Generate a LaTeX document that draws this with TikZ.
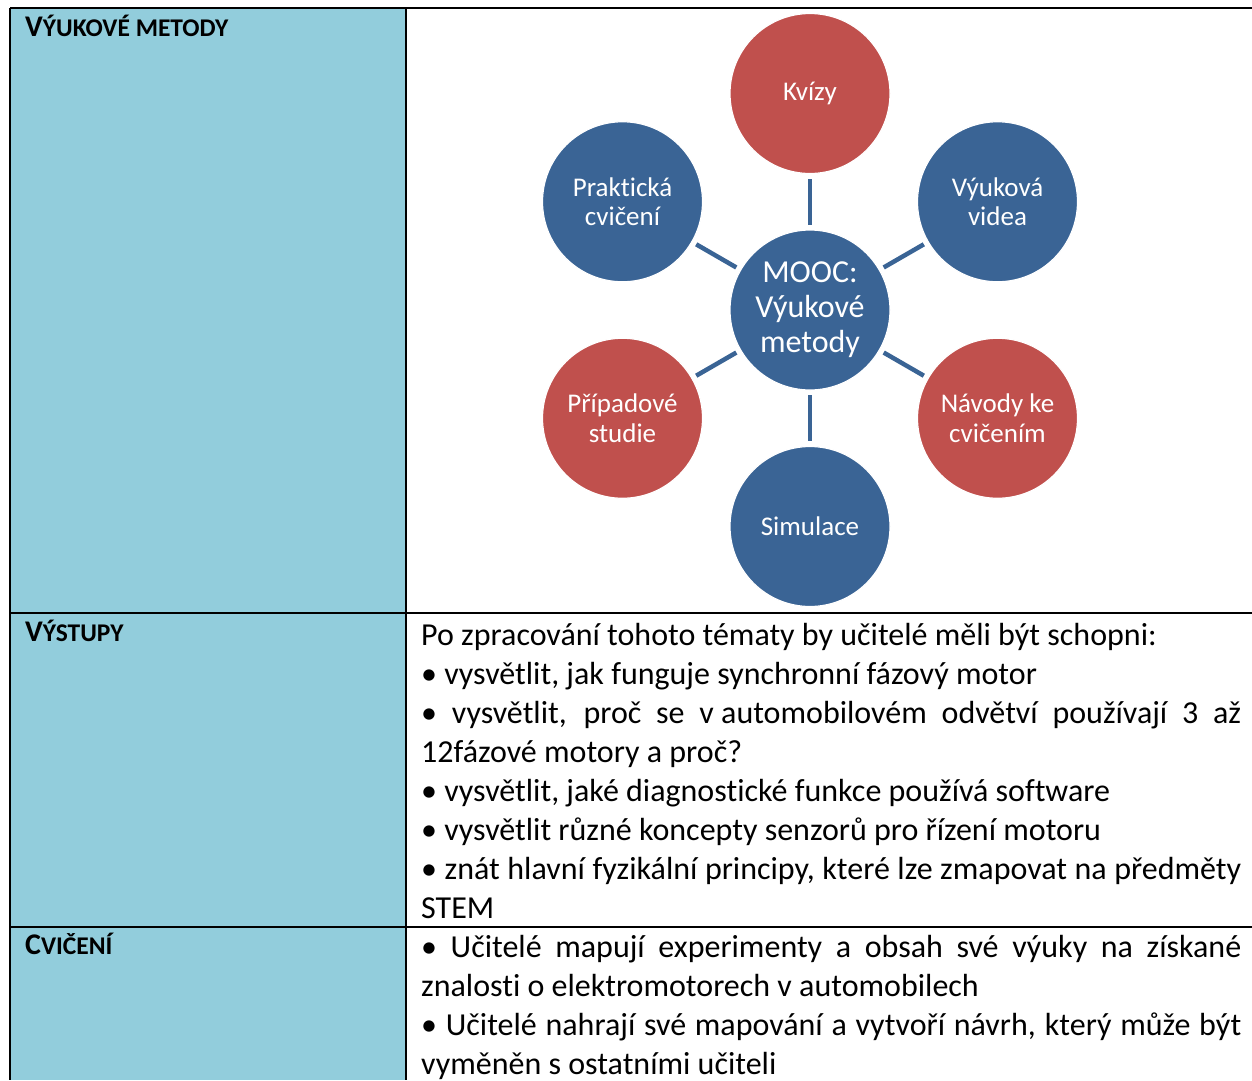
\documentclass[tikz,border=0pt]{standalone}
\usepackage{fontspec}
\setmainfont{Carlito}[Ligatures={TeX,NoCommon}]
\definecolor{cellblue}{HTML}{92CDDC}
\definecolor{hubblue}{HTML}{3A6495}
\definecolor{hubred}{HTML}{C0504D}
% small-caps style heading: one full-size capital, the rest in smaller capitals
\newcommand{\hdcaps}[2]{{\fontsize{30}{32}\selectfont #1}{\fontsize{25.5}{32}\selectfont #2}}

\begin{document}
\begin{tikzpicture}[x=1pt,y=-1pt,
  rule/.style={line width=2.5pt, black},
  bubble/.style={circle, minimum size=160pt, inner sep=0pt, draw=white,
    line width=1.2pt, text=white, align=center,
    font=\fontsize{27}{29.5}\selectfont},
  bluebub/.style={bubble, fill=hubblue},
  redbub/.style={bubble, fill=hubred},
  spoke/.style={hubblue, line width=4.5pt, shorten <=4.5pt, shorten >=4.5pt},
  head/.style={anchor=base west, inner sep=0pt, font=\bfseries},
  cell/.style={anchor=base west, inner sep=0pt}
]
\useasboundingbox (0,0) rectangle (1252,1080);

% table: shaded label column and rules
\fill[cellblue] (10,8) rectangle (406,1080);
\draw[rule] (10,8) -- (1252,8);
\draw[rule] (10,8) -- (10,1080);
\draw[rule] (406,8) -- (406,1080);
\draw[rule] (10,613) -- (1252,613);
\draw[rule] (10,927) -- (1252,927);

% row headings
\node[head] (h1) at (25,36) {\hdcaps{V}{ÝUKOVÉ METODY}};
\node[head] (h2) at (25,641) {\hdcaps{V}{ÝSTUPY}};
\node[head] (h3) at (25,954) {\hdcaps{C}{VIČENÍ}};

% hub-and-spoke diagram
\node[bluebub, font=\fontsize{32}{35}\selectfont] (hub) at (810,310) {MOOC:\\Výukové\\metody};
\node[redbub]  (quiz) at (810,93.5) {Kvízy};
\node[bluebub] (video) at (997.5,201.75) {Výuková\\videa};
\node[redbub]  (guide) at (997.5,418.25) {Návody ke\\cvičením};
\node[bluebub] (sim) at (810,526.5) {Simulace};
\node[redbub]  (case) at (622.5,418.25) {Případové\\studie};
\node[bluebub] (prac) at (622.5,201.75) {Praktická\\cvičení};

\foreach \n in {quiz,video,guide,sim,case,prac}
  \draw[spoke] (hub) -- (\n);

% outcomes
\node[cell] (outcomes) at (421,645) {\parbox[t]{820pt}{\fontsize{32}{39}\selectfont
Po zpracování tohoto tématy by učitelé měli být schopni:\\
• vysvětlit, jak funguje synchronní fázový motor\\
\makebox[\linewidth][s]{• vysvětlit, proč se \mbox{v automobilovém} odvětví používají 3 až}\\
12fázové motory a proč?\\
• vysvětlit, jaké diagnostické funkce používá software\\
• vysvětlit různé koncepty senzorů pro řízení motoru\\
\makebox[\linewidth][s]{• znát hlavní fyzikální principy, které lze zmapovat na předměty}\\
STEM}};

% exercises
\node[cell] (tasks) at (421,957) {\parbox[t]{820pt}{\fontsize{32}{39}\selectfont
\makebox[\linewidth][s]{• Učitelé mapují experimenty a obsah své výuky na získané}\\
znalosti o elektromotorech v automobilech\\
\makebox[\linewidth][s]{• Učitelé nahrají své mapování a vytvoří návrh, který může být}\\
vyměněn s ostatními učiteli}};
\end{tikzpicture}
\end{document}
